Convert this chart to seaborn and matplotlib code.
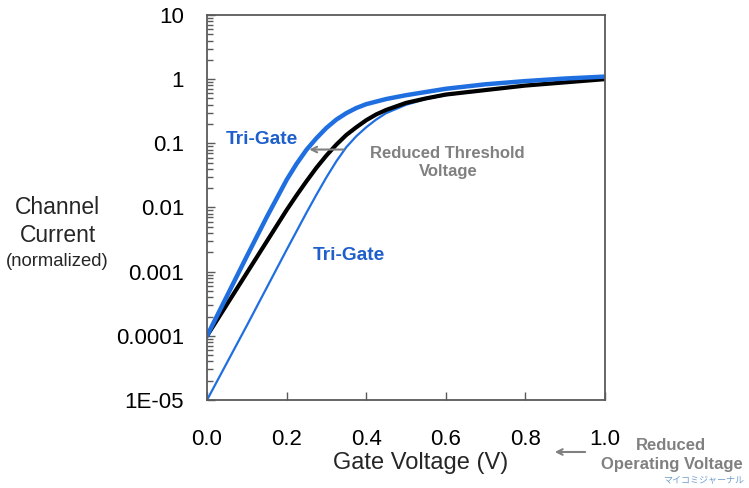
import numpy as np
import pandas as pd
import matplotlib
matplotlib.use("Agg")
import matplotlib.pyplot as plt
import seaborn as sns

# gate voltage (V)
voltage = [0.0, 0.05, 0.1, 0.15, 0.2, 0.225, 0.25, 0.275, 0.3, 0.325, 0.35,
           0.375, 0.4, 0.425, 0.45, 0.5, 0.55, 0.6, 0.7, 0.8, 0.9, 1.0]

# channel current, log10 of normalized value
planar_log = [-5.0, -4.42, -3.84, -3.25, -2.66, -2.37, -2.08, -1.80, -1.53, -1.28, -1.06,
              -0.89, -0.75, -0.63, -0.53, -0.40, -0.31, -0.25, -0.17, -0.10, -0.05, 0.0]
planar_ref_log = [-4.0, -3.51, -3.02, -2.53, -2.04, -1.81, -1.59, -1.38, -1.19, -1.02, -0.87,
                  -0.75, -0.64, -0.55, -0.48, -0.37, -0.30, -0.24, -0.17, -0.10, -0.05, 0.0]
trigate_log = [-4.0, -3.38, -2.76, -2.15, -1.57, -1.32, -1.10, -0.92, -0.76, -0.63, -0.53,
               -0.45, -0.39, -0.35, -0.31, -0.25, -0.20, -0.15, -0.08, -0.03, 0.01, 0.04]

ytick_vals = [1e-5, 1e-4, 1e-3, 1e-2, 1e-1, 1, 10]
ytick_labels = ["1E-05", "0.0001", "0.001", "0.01", "0.1", "1", "10"]
xtick_vals = [0.0, 0.2, 0.4, 0.6, 0.8, 1.0]

sns.set_style("white")
plt.rcParams['font.family'] = ['Liberation Sans', 'Noto Sans CJK JP', 'DejaVu Sans']

blue = "#1f6fe0"
text_blue = "#1e5fcc"
gray = "#808080"
frame = "#5a5a5a"

n = len(voltage)
df = pd.DataFrame({
    "V": voltage * 3,
    "I": [10 ** v for v in planar_log + planar_ref_log + trigate_log],
    "curve": ["planar"] * n + ["ref"] * n + ["trigate"] * n,
})

fig = plt.figure(figsize=(7.49, 4.88), dpi=100)
ax = fig.add_axes([0.2764, 0.1803, 0.5313, 0.789])

sns.lineplot(data=df[df.curve == "planar"], x="V", y="I", color=blue, lw=1.6, ax=ax)
sns.lineplot(data=df[df.curve == "ref"], x="V", y="I", color="black", lw=3, ax=ax)
sns.lineplot(data=df[df.curve == "trigate"], x="V", y="I", color=blue, lw=3.2, ax=ax)

ax.set_yscale("log")
ax.set_ylim(1e-5, 10)
ax.set_xlim(0, 1.0)
ax.set_yticks(ytick_vals)
ax.set_yticklabels(ytick_labels)
minor = [m * 10.0 ** e for e in range(-5, 1) for m in range(2, 10)]
ax.yaxis.set_minor_locator(matplotlib.ticker.FixedLocator(minor))
ax.yaxis.set_minor_formatter(matplotlib.ticker.NullFormatter())
ax.set_xticks(xtick_vals)
ax.set_xticklabels(["%.1f" % v for v in xtick_vals])
ax.tick_params(left=True, bottom=True, which="both")
ax.tick_params(axis="both", which="major", direction="in", length=6, width=1,
               colors=frame, labelcolor="black", labelsize=16)
ax.tick_params(axis="y", which="major", pad=16.5)
ax.tick_params(axis="x", which="major", pad=21)
ax.tick_params(axis="y", which="minor", direction="in", length=4, width=1, colors=frame)
for s in ax.spines.values():
    s.set_color(frame)
    s.set_linewidth(1.3)
ax.set_xlabel("")
ax.set_ylabel("")

fig.text(0.561, 1 - 463 / 488, "Gate Voltage (V)", fontsize=17, ha="center", va="center")
fig.text(0.077, 1 - 207 / 488, "Channel", fontsize=16.5, ha="center", va="center")
fig.text(0.077, 1 - 236 / 488, "Current", fontsize=16.5, ha="center", va="center")
fig.text(0.077, 1 - 262 / 488, "(normalized)", fontsize=13.3, ha="center", va="center")

ax.text(0.048, 0.115, "Tri-Gate", color=text_blue, fontsize=13.8, fontweight="bold", va="center")
ax.text(0.265, 0.0018, "Tri-Gate", color=text_blue, fontsize=13.8, fontweight="bold", va="center")
ax.text(0.605, 0.05, "Reduced Threshold\nVoltage", color=gray, fontsize=12,
        fontweight="bold", ha="center", va="center", linespacing=1.2)
ax.annotate("", xy=(0.25, 0.08), xytext=(0.35, 0.08),
            arrowprops=dict(arrowstyle="->", color=gray, lw=1.5))

ax.annotate("", xy=(0.737, 0.0738), xytext=(0.785, 0.0738), xycoords="figure fraction",
            textcoords="figure fraction", annotation_clip=False,
            arrowprops=dict(arrowstyle="->", color=gray, lw=1.5))
fig.text(0.896, 1 - 445 / 488, "Reduced", color=gray, fontsize=12,
         fontweight="bold", ha="center", va="center")
fig.text(0.897, 1 - 465 / 488, "Operating Voltage", color=gray, fontsize=12,
         fontweight="bold", ha="center", va="center")
fig.text(0.993, 1 - 480 / 488, "マイコミジャーナル", color="#6f9ccc", fontsize=6.5,
         ha="right", va="center")

fig.savefig("out.png", dpi=100)
